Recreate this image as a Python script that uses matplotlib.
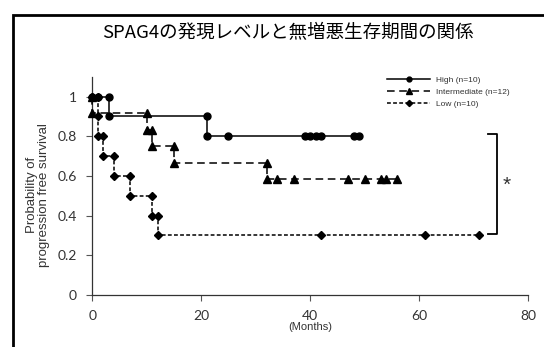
import matplotlib
matplotlib.use("Agg")
import matplotlib.pyplot as plt
from matplotlib.patches import Rectangle

# ---- data ----
title = "SPAG4の発現レベルと無増悪生存期間の関係"
high_t = [0, 1, 3, 3, 21, 21, 25, 39, 40, 41, 42, 48, 49]
high_s = [1, 1, 1, 0.9, 0.9, 0.8, 0.8, 0.8, 0.8, 0.8, 0.8, 0.8, 0.8]
inter_t = [0, 0, 10, 10, 11, 11, 15, 15, 32, 32, 34, 37, 47, 50, 53, 54, 56]
inter_s = [1, 0.917, 0.917, 0.833, 0.833, 0.75, 0.75, 0.667, 0.667, 0.583,
           0.583, 0.583, 0.583, 0.583, 0.583, 0.583, 0.583]
low_t = [0, 1, 1, 1, 2, 2, 4, 4, 7, 7, 11, 11, 12, 12, 42, 61, 71]
low_s = [1, 1, 0.9, 0.8, 0.8, 0.7, 0.7, 0.6, 0.6, 0.5, 0.5, 0.4, 0.4, 0.3,
         0.3, 0.3, 0.3]
labels = ["High (n=10)", "Intermediate (n=12)", "Low (n=10)"]
xticks = [0, 20, 40, 60, 80]
yticks = [0, 0.2, 0.4, 0.6, 0.8, 1.0]
ytick_labels = ["0", "0.2", "0.4", "0.6", "0.8", "1"]

W, H = 544, 347
fig = plt.figure(figsize=(W / 100, H / 100), dpi=100)
ax = fig.add_axes([92.3 / W, 1 - 295 / H, (528 - 92.3) / W, (295 - 76.7) / H])

tick_font = "Lato"
arial = "Liberation Sans"

ax.plot(high_t, high_s, color="black", lw=1.1, ls="-", marker="o", ms=5,
        label=labels[0], clip_on=False, zorder=3)
ax.plot(inter_t, inter_s, color="black", lw=1.1, ls=(0, (5, 3)), marker="^",
        ms=6, label=labels[1], clip_on=False, zorder=3)
ax.plot(low_t, low_s, color="black", lw=1.1, ls=(0, (2.5, 1.5)), marker="D",
        ms=4.5, label=labels[2], clip_on=False, zorder=3)

ax.set_xlim(0, 80)
ax.set_ylim(0, 1.1)
ax.set_xticks(xticks)
ax.set_xticklabels([str(v) for v in xticks], fontfamily=tick_font, fontsize=10, color="#333333")
ax.set_yticks(yticks)
ax.set_yticklabels(ytick_labels, fontfamily=tick_font, fontsize=10, color="#333333")
ax.tick_params(axis="both", direction="out", length=4, width=0.8, color="#555555", pad=7)
for s in ["top", "right"]:
    ax.spines[s].set_visible(False)
for s in ["left", "bottom"]:
    ax.spines[s].set_color("#333333")
    ax.spines[s].set_linewidth(0.9)

ax.set_xlabel("(Months)", fontfamily=arial, fontsize=8, color="#333333", labelpad=0)
ax.set_ylabel("Probability of\nprogression free survival", fontfamily=arial,
              fontsize=9.5, color="#333333", linespacing=1.05)
ax.yaxis.set_label_coords((50 - 92.3) / (528 - 92.3), (295 - 195) / (295 - 76.7))

# significance bracket
ax.plot([72.6, 74.3, 74.3, 72.6], [0.812, 0.812, 0.305, 0.305], color="black",
        lw=1.3, clip_on=False)
ax.text(75.3, 0.555, "*", fontsize=15, fontfamily=arial, ha="left", va="center",
        color="#333333")

leg = ax.legend(loc="center left", bbox_to_anchor=(387 / W, 1 - 92 / H),
                bbox_transform=fig.transFigure, frameon=False,
                handlelength=5.2, handletextpad=0.7, labelspacing=0.55,
                borderpad=0, borderaxespad=0, markerscale=0.7,
                prop={"family": arial, "size": 6})
for t in leg.get_texts():
    t.set_color("#333333")

fig.text(288 / W, 1 - 33 / H, title, ha="center", va="center", fontsize=13.3,
         fontfamily=["Noto Sans CJK JP", "DejaVu Sans"], color="black")

fig.add_artist(Rectangle((12.8 / W, -0.2), 2.0, (1 - 14.5 / H) + 0.2,
                         transform=fig.transFigure, fill=False, lw=2.0,
                         edgecolor="black"))

fig.savefig("out.png", dpi=100)
